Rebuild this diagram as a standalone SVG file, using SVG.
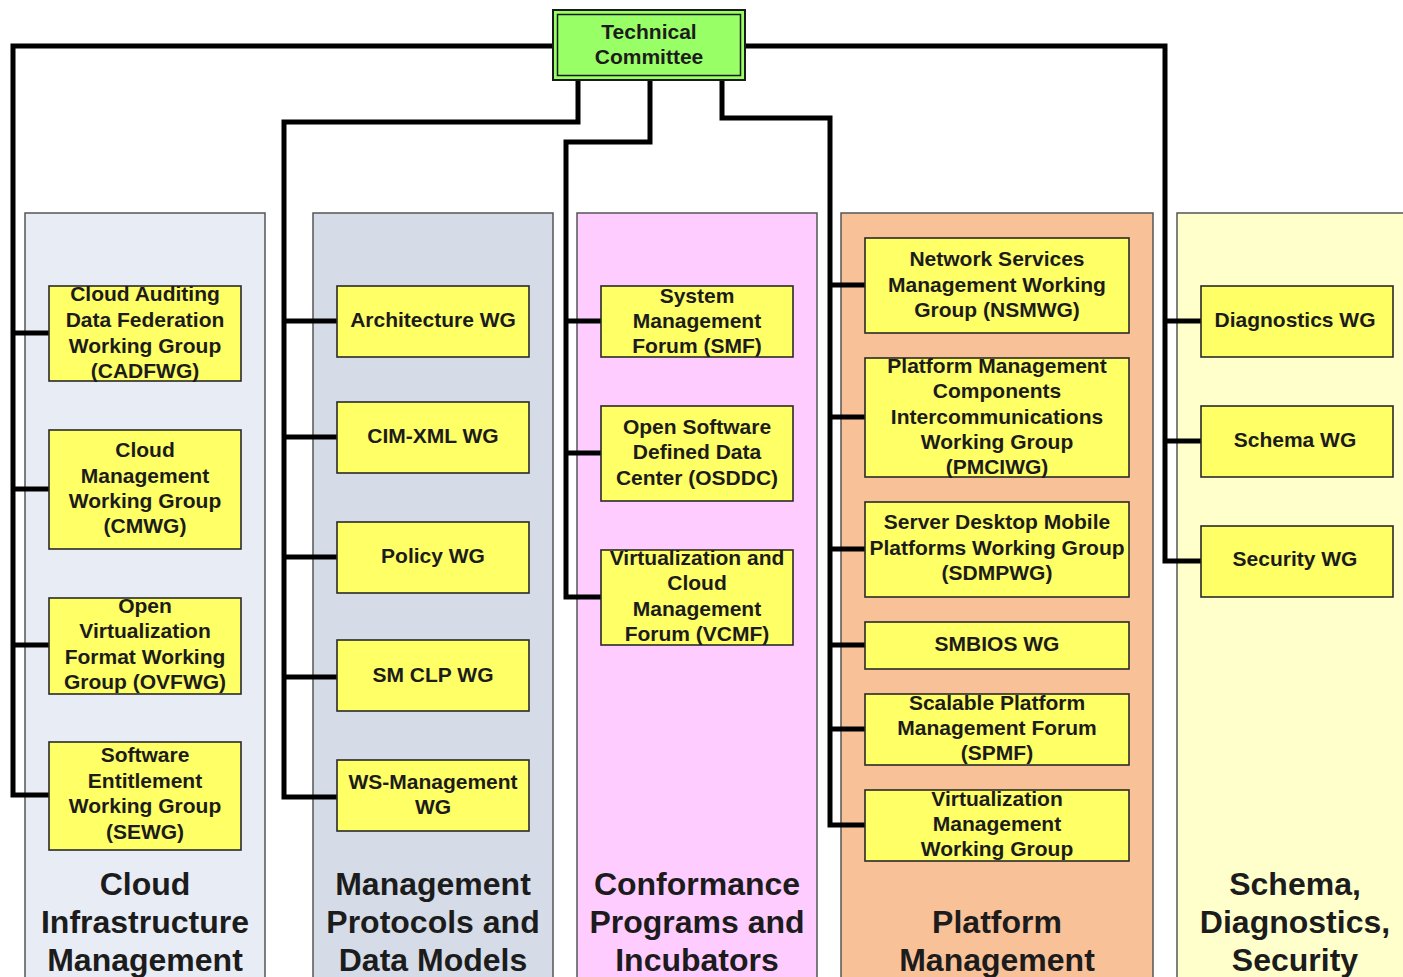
<svg xmlns="http://www.w3.org/2000/svg" width="1403" height="977" viewBox="0 0 1403 977">
<style>
.col{stroke:#555;stroke-width:1.5}
.wg{fill:#ffff66;stroke:#2a2a2a;stroke-width:1.6}
.t{font-family:"Liberation Sans",Arial,sans-serif;font-weight:bold;font-size:21px;fill:#1c1c1c;text-anchor:middle}
.h{font-family:"Liberation Sans",Arial,sans-serif;font-weight:bold;font-size:32px;fill:#1c1c1c;text-anchor:middle}
.c{fill:none;stroke:#000;stroke-width:5;stroke-linejoin:miter}
</style>
<rect width="1403" height="977" fill="#fff"/>
<g id="columns">
<rect class="col" x="25" y="213" width="240" height="770" fill="#e8ecf4"/>
<rect class="col" x="313" y="213" width="240" height="770" fill="#d5dce8"/>
<rect class="col" x="577" y="213" width="240" height="770" fill="#ffccff"/>
<rect class="col" x="841" y="213" width="312" height="770" fill="#f9c198"/>
<rect class="col" x="1177" y="213" width="240" height="770" fill="#ffffcc"/>
<text class="h" x="145" y="895">Cloud</text>
<text class="h" x="145" y="933">Infrastructure</text>
<text class="h" x="145" y="971">Management</text>
<text class="h" x="433" y="895">Management</text>
<text class="h" x="433" y="933">Protocols and</text>
<text class="h" x="433" y="971">Data Models</text>
<text class="h" x="697" y="895">Conformance</text>
<text class="h" x="697" y="933">Programs and</text>
<text class="h" x="697" y="971">Incubators</text>
<text class="h" x="997" y="933">Platform</text>
<text class="h" x="997" y="971">Management</text>
<text class="h" x="1295" y="895">Schema,</text>
<text class="h" x="1295" y="933">Diagnostics,</text>
<text class="h" x="1295" y="971">Security</text>
</g>
<g id="connectors">
<path class="c" d="M553 46 H13 V795 H49"/>
<path class="c" d="M13 333 H49 M13 489 H49 M13 645 H49"/>
<path class="c" d="M578 80 V122 H284 V797 H337"/>
<path class="c" d="M284 321 H337 M284 437 H337 M284 557 H337 M284 677 H337"/>
<path class="c" d="M650 80 V142 H566 V597 H601"/>
<path class="c" d="M566 321 H601 M566 453 H601"/>
<path class="c" d="M722 80 V118 H830 V825 H865"/>
<path class="c" d="M830 285 H865 M830 417 H865 M830 549 H865 M830 645 H865 M830 729 H865"/>
<path class="c" d="M745 46 H1165 V561 H1201"/>
<path class="c" d="M1165 321 H1201 M1165 441 H1201"/>
</g>
<g id="tc">
<rect x="553" y="10" width="192" height="70" fill="#99ff66" stroke="#1a1a1a" stroke-width="2"/>
<rect x="557.5" y="14.5" width="183" height="61" fill="none" stroke="#1a1a1a" stroke-width="1.5"/>
<text class="t" x="649" y="39">Technical</text>
<text class="t" x="649" y="64">Committee</text>
</g>
<g id="cadfwg"><rect class="wg" x="49" y="286" width="192" height="95"/>
<text class="t" x="145" y="301">Cloud Auditing</text><text class="t" x="145" y="327">Data Federation</text><text class="t" x="145" y="353">Working Group</text><text class="t" x="145" y="378">(CADFWG)</text></g>
<g id="cmwg"><rect class="wg" x="49" y="430" width="192" height="119"/>
<text class="t" x="145" y="457">Cloud</text><text class="t" x="145" y="483">Management</text><text class="t" x="145" y="508">Working Group</text><text class="t" x="145" y="533">(CMWG)</text></g>
<g id="ovfwg"><rect class="wg" x="49" y="598" width="192" height="96"/>
<text class="t" x="145" y="613">Open</text><text class="t" x="145" y="638">Virtualization</text><text class="t" x="145" y="664">Format Working</text><text class="t" x="145" y="689">Group (OVFWG)</text></g>
<g id="sewg"><rect class="wg" x="49" y="742" width="192" height="108"/>
<text class="t" x="145" y="762">Software</text><text class="t" x="145" y="788">Entitlement</text><text class="t" x="145" y="813">Working Group</text><text class="t" x="145" y="839">(SEWG)</text></g>
<g id="arch"><rect class="wg" x="337" y="286" width="192" height="71"/><text class="t" x="433" y="327">Architecture WG</text></g>
<g id="cimxml"><rect class="wg" x="337" y="402" width="192" height="71"/><text class="t" x="433" y="443">CIM-XML WG</text></g>
<g id="policy"><rect class="wg" x="337" y="522" width="192" height="71"/><text class="t" x="433" y="563">Policy WG</text></g>
<g id="smclp"><rect class="wg" x="337" y="640" width="192" height="71"/><text class="t" x="433" y="682">SM CLP WG</text></g>
<g id="wsman"><rect class="wg" x="337" y="760" width="192" height="71"/><text class="t" x="433" y="789">WS-Management</text><text class="t" x="433" y="814">WG</text></g>
<g id="smf"><rect class="wg" x="601" y="286" width="192" height="71"/>
<text class="t" x="697" y="303">System</text><text class="t" x="697" y="328">Management</text><text class="t" x="697" y="353">Forum (SMF)</text></g>
<g id="osddc"><rect class="wg" x="601" y="406" width="192" height="95"/>
<text class="t" x="697" y="434">Open Software</text><text class="t" x="697" y="459">Defined Data</text><text class="t" x="697" y="485">Center (OSDDC)</text></g>
<g id="vcmf"><rect class="wg" x="601" y="550" width="192" height="95"/>
<text class="t" x="697" y="565">Virtualization and</text><text class="t" x="697" y="590">Cloud</text><text class="t" x="697" y="616">Management</text><text class="t" x="697" y="641">Forum (VCMF)</text></g>
<g id="nsmwg"><rect class="wg" x="865" y="238" width="264" height="95"/>
<text class="t" x="997" y="266">Network Services</text><text class="t" x="997" y="292">Management Working</text><text class="t" x="997" y="317">Group (NSMWG)</text></g>
<g id="pmciwg"><rect class="wg" x="865" y="358" width="264" height="119"/>
<text class="t" x="997" y="373">Platform Management</text><text class="t" x="997" y="398">Components</text><text class="t" x="997" y="424">Intercommunications</text><text class="t" x="997" y="449">Working Group</text><text class="t" x="997" y="474">(PMCIWG)</text></g>
<g id="sdmpwg"><rect class="wg" x="865" y="502" width="264" height="95"/>
<text class="t" x="997" y="529">Server Desktop Mobile</text><text class="t" x="997" y="555">Platforms Working Group</text><text class="t" x="997" y="580">(SDMPWG)</text></g>
<g id="smbios"><rect class="wg" x="865" y="622" width="264" height="47"/><text class="t" x="997" y="651">SMBIOS WG</text></g>
<g id="spmf"><rect class="wg" x="865" y="694" width="264" height="71"/>
<text class="t" x="997" y="710">Scalable Platform</text><text class="t" x="997" y="735">Management Forum</text><text class="t" x="997" y="760">(SPMF)</text></g>
<g id="vmwg"><rect class="wg" x="865" y="790" width="264" height="71"/>
<text class="t" x="997" y="806">Virtualization</text><text class="t" x="997" y="831">Management</text><text class="t" x="997" y="856">Working Group</text></g>
<g id="diag"><rect class="wg" x="1201" y="286" width="192" height="71"/><text class="t" x="1295" y="327">Diagnostics WG</text></g>
<g id="schema"><rect class="wg" x="1201" y="406" width="192" height="71"/><text class="t" x="1295" y="447">Schema WG</text></g>
<g id="security"><rect class="wg" x="1201" y="526" width="192" height="71"/><text class="t" x="1295" y="566">Security WG</text></g>
</svg>
